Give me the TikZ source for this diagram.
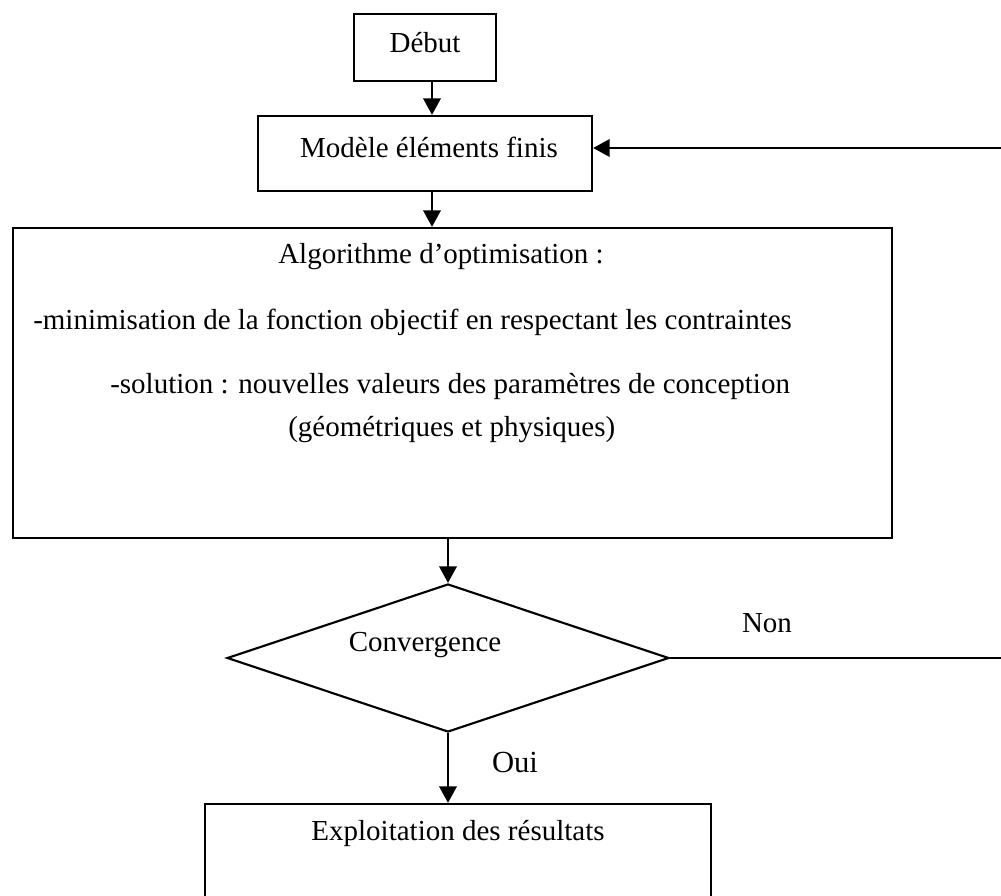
\documentclass[tikz,border=0pt]{standalone}
\usepackage{fontspec}
\setmainfont{Liberation Serif}
\usetikzlibrary{arrows.meta,shapes.geometric,calc}
\begin{document}
\begin{tikzpicture}[x=0.75pt,y=-0.75pt,
  box/.style={draw=black,line width=1.6pt,inner sep=0pt},
  txt/.style={inner sep=0pt,font=\fontsize{21.75}{26}\selectfont},
  conn/.style={line width=2.1pt,-{Triangle[length=12.5pt,width=13pt]}}]
\useasboundingbox (0,0) rectangle (1001,896);
\clip (0,0) rectangle (1001,896);

% boxes
\node[box,minimum width=106.5pt,minimum height=50.25pt] (debut) at (425,47.5) {};
\node[txt] (debutT) at (425,43) {Début};

\node[box,minimum width=250.5pt,minimum height=56.25pt] (model) at (425,153.5) {};
\node[txt] (modelT) at (429,147) {Modèle éléments finis};

\node[box,minimum width=659.25pt,minimum height=232.5pt] (algo) at (452.5,383) {};
\node[txt] (algoT1) at (441,257) {Algorithme d’optimisation :};
\node[txt,anchor=west] (algoT2) at (33,322) {-minimisation de la fonction objectif en respectant les contraintes};
\node[txt,anchor=west] (algoT3) at (110,387) {-solution : nouvelles valeurs des paramètres de conception};
\node[txt,anchor=west] (algoT4) at (288,430) {(géométriques et physiques)};

\node[box,diamond,aspect=3,minimum width=331.5pt,minimum height=111pt] (conv) at (448,658) {};
\node[txt] (convT) at (425,645) {Convergence};

\node[box,minimum width=379.5pt,minimum height=94.5pt] (expl) at (458,867) {};
\node[txt] (explT) at (458,833) {Exploitation des résultats};

% connectors
\draw[conn] ([xshift=5.25pt]debut.south) -- ([xshift=5.25pt]debut.south |- model.north);
\draw[conn] ([xshift=5.25pt]model.south) -- ([xshift=5.25pt]model.south |- algo.north);
\draw[conn] (conv.north |- algo.south) -- (conv.north);
\draw[conn] (conv.south) -- (conv.south |- expl.north);

% "Non" branch returns to the finite element model
\coordinate (loopB) at (1012,661);
\coordinate (loopT) at (1012,148);
\draw[conn] (conv.east) -- (conv.east -| loopB) -- (loopT) -- (loopT -| model.east);

\node[txt] (non) at (767,623) {Non};
\node[inner sep=0pt,font=\fontsize{23}{27}\selectfont] (oui) at (515,762) {Oui};
\end{tikzpicture}
\end{document}
